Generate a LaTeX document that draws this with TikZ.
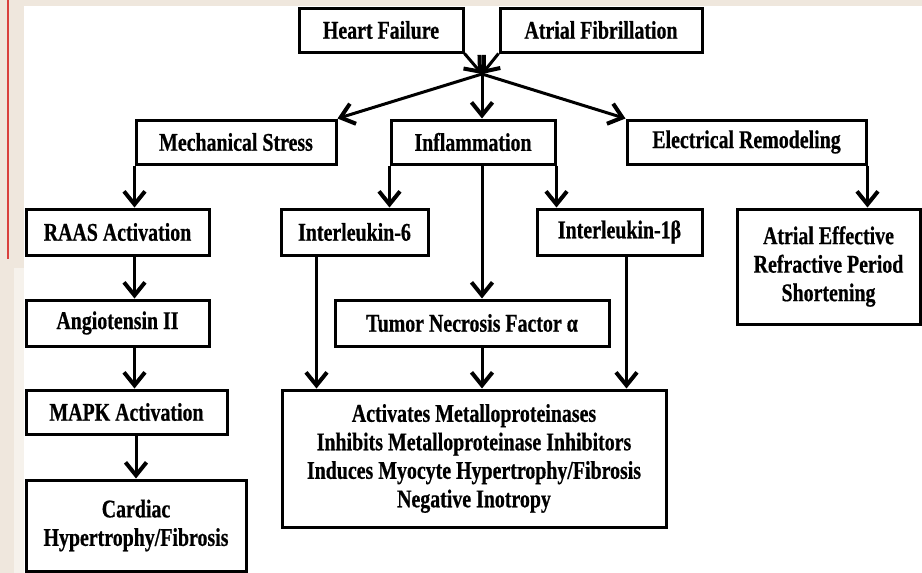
\documentclass[tikz,border=0pt]{standalone}
\usepackage{fontspec}
\setmainfont[FakeStretch=0.8]{Liberation Serif}
\newfontfamily\boxfont[FakeStretch=0.78, FakeBold=0.6]{Liberation Serif Bold}
\usepackage{tikz}
\usetikzlibrary{arrows.meta,calc}
\definecolor{slidebg}{HTML}{EFE7DD}
\definecolor{slidebgl}{HTML}{F6F2EC}
\definecolor{slidered}{HTML}{D9413E}

\begin{document}
\begin{tikzpicture}[x=1pt, y=-1pt,
  fbox/.style={draw=black, fill=white, line width=3pt, inner sep=0pt, align=center,
    font=\fontsize{25.5}{28.5}\selectfont\boxfont},
  arr/.style={-{Straight Barb[length=13pt, width=21pt, line width=4pt]}, line width=3pt}
]
  \useasboundingbox (0,0) rectangle (922,573);
  % slide background
  \fill[slidebg] (0,0) rectangle (922,6);
  \fill[slidebg] (0,0) rectangle (24,268);
  \fill[slidebgl] (14,268) rectangle (24,573);
  \fill[slidebg] (0,268) rectangle (14,573);
  \draw[slidered, line width=2.5pt] (8,0) -- (8,259);

  \node[fbox, minimum width=164pt, minimum height=44pt] (hf) at (381,30) {Heart Failure};
  \node[fbox, minimum width=202pt, minimum height=44pt] (af) at (601,30) {Atrial Fibrillation};
  \coordinate (j) at (482,74);
  \node[fbox, minimum width=200pt, minimum height=44pt] (mech) at (236,142) {Mechanical Stress};
  \node[fbox, minimum width=164pt, minimum height=44pt] (infl) at (473,142) {Inflammation};
  \node[fbox, minimum width=239pt, minimum height=44pt] (elec) at (746.5,142) {Electrical Remodeling};
  \node[fbox, minimum width=183pt, minimum height=46pt] (raas) at (117.5,232) {RAAS Activation};
  \node[fbox, minimum width=147pt, minimum height=46pt] (il6) at (354.5,232) {Interleukin-6};
  \node[fbox, minimum width=165pt, minimum height=46pt] (il1b) at (619.5,232) {Interleukin-1β};
  \node[fbox, minimum width=183pt, minimum height=115pt] (aerp) at (828.5,266.5)
    {Atrial Effective\\Refractive Period\\Shortening};
  \node[fbox, minimum width=183pt, minimum height=46pt] (angii) at (117.5,323) {Angiotensin II};
  \node[fbox, minimum width=274pt, minimum height=46pt] (tnf) at (472,323) {Tumor Necrosis Factor α};
  \node[fbox, minimum width=201pt, minimum height=44pt] (mapk) at (126.5,412) {MAPK Activation};
  \node[fbox, minimum width=384pt, minimum height=137pt] (effects) at (474,458.5)
    {Activates Metalloproteinases\\Inhibits Metalloproteinase Inhibitors\\
     Induces Myocyte Hypertrophy/Fibrosis\\Negative Inotropy};
  \node[fbox, minimum width=220pt, minimum height=91pt] (cardiac) at (136,525.5)
    {Cardiac\\Hypertrophy/Fibrosis};

  \draw[arr] (hf.south east) -- (j);
  \draw[arr] (af.south west) -- (j);
  \draw[arr] (j) -- (mech.north east);
  \draw[arr] (j) -- (j |- infl.north);
  \draw[arr] (j) -- (elec.north west);
  \draw[arr] (mech.south west) -- (mech.south west |- raas.north);
  \draw[arr] (raas.south -| mech.south west) -- (angii.north -| mech.south west);
  \draw[arr] (angii.south -| mech.south west) -- (mapk.north -| mech.south west);
  \draw[arr] (mapk.south -| cardiac.north) -- (cardiac.north);
  \draw[arr] (infl.south west) -- (infl.south west |- il6.north);
  \draw[arr] (infl.south east) -- (infl.south east |- il1b.north);
  \draw[arr] (infl.south -| j) -- (tnf.north -| j);
  \draw[arr] (elec.south east) -- (elec.south east |- aerp.north);
  \draw[arr] ([xshift=37pt]il6.south west) -- ([xshift=37pt]il6.south west |- effects.north);
  \draw[arr] (tnf.south -| j) -- (effects.north -| j);
  \draw[arr] ([xshift=91pt]il1b.south west) -- ([xshift=91pt]il1b.south west |- effects.north);
\end{tikzpicture}
\end{document}
